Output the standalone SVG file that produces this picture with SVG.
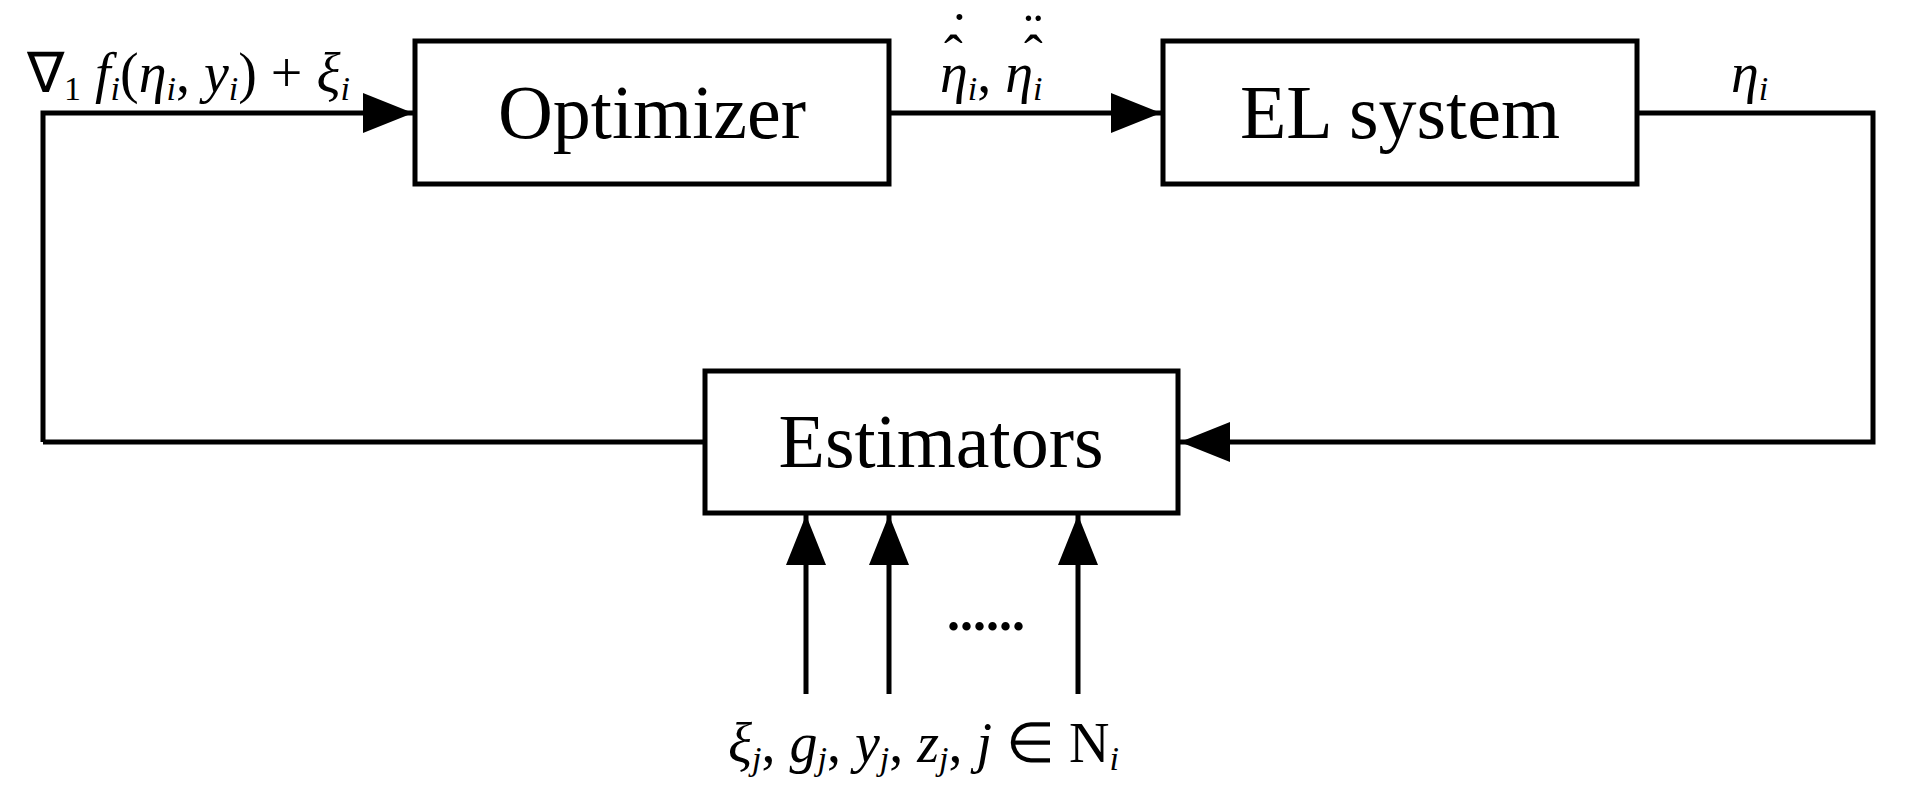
<svg xmlns="http://www.w3.org/2000/svg" width="1926" height="803" viewBox="0 0 1926 803">
<style>
.box{fill:#fff;stroke:#000;stroke-width:5}
.ln{fill:none;stroke:#000;stroke-width:5}
.t{font-family:"Liberation Serif",serif;font-size:76px;text-anchor:middle}
.m{font-family:"Liberation Serif",serif;font-size:56px;font-style:italic}
.s{font-size:34px}
.ac{font-family:"Liberation Serif",serif;font-size:56px}
</style>
<defs>
<marker id="a" markerWidth="10" markerHeight="8" refX="10" refY="4" orient="auto" markerUnits="strokeWidth"><path d="M0,0L10,4L0,8z" fill="#000"/></marker>
</defs>
<rect width="1926" height="803" fill="#fff"/>
<g id="connectors">
<path class="ln" d="M43,442V113H413" marker-end="url(#a)"/>
<path class="ln" d="M889,113H1161" marker-end="url(#a)"/>
<path class="ln" d="M1637,113H1873V442H1180" marker-end="url(#a)"/>
<path class="ln" d="M705,442H43"/>
<path class="ln" d="M806,694V515" marker-end="url(#a)"/>
<path class="ln" d="M889,694V515" marker-end="url(#a)"/>
<path class="ln" d="M1078,694V515" marker-end="url(#a)"/>
</g>
<g id="optimizer"><rect class="box" x="415" y="41" width="474" height="143"/><text class="t" x="652" y="138">Optimizer</text></g>
<g id="el"><rect class="box" x="1163" y="41" width="474" height="143"/><text class="t" x="1400" y="138">EL system</text></g>
<g id="estimators"><rect class="box" x="705" y="371" width="473" height="142"/><text class="t" x="941" y="467">Estimators</text></g>
<text class="m" x="27" y="92"><tspan font-style="normal">∇</tspan><tspan class="s" dy="8" font-style="normal">1</tspan><tspan dy="-8"> f</tspan><tspan class="s" dy="8">i</tspan><tspan dy="-8" font-style="normal">(</tspan>η<tspan class="s" dy="8">i</tspan><tspan dy="-8" font-style="normal">, </tspan>y<tspan class="s" dy="8">i</tspan><tspan dy="-8" font-style="normal">) + </tspan>ξ<tspan class="s" dy="8">i</tspan></text>
<text class="m" x="940" y="92">η<tspan class="s" dy="8">i</tspan><tspan dy="-8" font-style="normal">, </tspan>η<tspan class="s" dy="8">i</tspan></text>
<text class="ac" x="944" y="74">ˆ</text><text class="ac" x="950" y="52">˙</text>
<text class="ac" x="1024" y="74">ˆ</text><text class="ac" x="1024" y="52">¨</text>
<text class="m" x="1731" y="92">η<tspan class="s" dy="8">i</tspan></text>
<text x="986" y="630" font-family="Liberation Serif,serif" font-size="52" font-weight="bold" text-anchor="middle">......</text>
<text class="m" x="728" y="762">ξ<tspan class="s" dy="8">j</tspan><tspan dy="-8" font-style="normal">, </tspan>g<tspan class="s" dy="8">j</tspan><tspan dy="-8" font-style="normal">, </tspan>y<tspan class="s" dy="8">j</tspan><tspan dy="-8" font-style="normal">, </tspan>z<tspan class="s" dy="8">j</tspan><tspan dy="-8" font-style="normal">, </tspan>j<tspan font-style="normal"> ∈ N</tspan><tspan class="s" dy="8">i</tspan></text>
</svg>
